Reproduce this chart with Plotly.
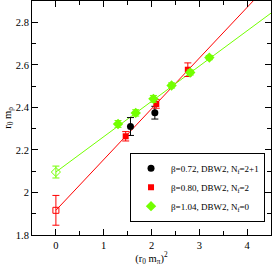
import plotly.graph_objects as go

# ---- data ----
black_x = [1.56, 2.07]
black_y = [2.31, 2.375]
black_err = [0.042, 0.03]

red_x = [1.46, 2.10, 2.76]
red_y = [2.264, 2.416, 2.577]
red_err = [0.022, 0.02, 0.032]
red_chiral_x = [0.0]
red_chiral_y = [1.916]
red_chiral_err = [0.07]
red_fit = (1.916, 0.2385)   # intercept, slope

green_x = [1.30, 1.67, 2.04, 2.42, 2.81, 3.21]
green_y = [2.322, 2.374, 2.44, 2.503, 2.564, 2.634]
green_err = [0.016, 0.015, 0.016, 0.012, 0.012, 0.01]
green_chiral_x = [0.0]
green_chiral_y = [2.096]
green_chiral_err = [0.028]
green_fit = (2.096, 0.166)

fit_x = [0.0, 4.5]

labels = ["β=0.72, DBW2, N<sub>f</sub>=2+1",
          "β=0.80, DBW2, N<sub>f</sub>=2",
          "β=1.04, DBW2, N<sub>f</sub>=0"]

RED = "#ff0000"
GREEN = "#73ff00"
BLACK = "#000000"
FONT = "Liberation Serif"

fig = go.Figure()

def line(fit, color):
    a, b = fit
    fig.add_trace(go.Scatter(x=fit_x, y=[a + b * x for x in fit_x], mode="lines",
                             line=dict(color=color, width=1), showlegend=False,
                             hoverinfo="skip"))

line(red_fit, RED)
line(green_fit, GREEN)

def err(vals, color):
    return dict(type="data", array=vals, visible=True, color=color, thickness=1, width=3.5)

fig.add_trace(go.Scatter(x=red_chiral_x, y=red_chiral_y, mode="markers",
                         marker=dict(symbol="square-open", size=6, color=RED, line=dict(width=1)),
                         error_y=err(red_chiral_err, RED), showlegend=False))
fig.add_trace(go.Scatter(x=green_chiral_x, y=green_chiral_y, mode="markers",
                         marker=dict(symbol="diamond-open", size=7, color=GREEN, line=dict(width=1)),
                         error_y=err(green_chiral_err, GREEN), showlegend=False))

fig.add_trace(go.Scatter(x=black_x, y=black_y, mode="markers", name=labels[0],
                         marker=dict(symbol="circle", size=7, color=BLACK),
                         error_y=err(black_err, BLACK)))
fig.add_trace(go.Scatter(x=red_x, y=red_y, mode="markers", name=labels[1],
                         marker=dict(symbol="square", size=6, color=RED),
                         error_y=err(red_err, RED)))
fig.add_trace(go.Scatter(x=green_x, y=green_y, mode="markers", name=labels[2],
                         marker=dict(symbol="diamond", size=8, color=GREEN),
                         error_y=err(green_err, GREEN)))

axis_common = dict(showline=True, linecolor="black", linewidth=1, mirror="ticks",
                   ticks="inside", ticklen=6, tickcolor="black", tickwidth=1,
                   showgrid=False, zeroline=False,
                   tickfont=dict(family=FONT, size=10.5, color="black"))

fig.update_xaxes(range=[-0.5, 4.5], dtick=1, tick0=0,
                 minor=dict(dtick=0.5, ticks="inside", ticklen=4, tickcolor="black"),
                 title=dict(text="(r<sub>0</sub> m<sub>π</sub>)<sup>2</sup>",
                            font=dict(family=FONT, size=10.5, color="black"), standoff=2),
                 **axis_common)
fig.update_yaxes(range=[1.8, 2.9], dtick=0.2, tick0=1.8,
                 minor=dict(dtick=0.1, ticks="inside", ticklen=4, tickcolor="black"),
                 title=dict(text="r<sub>0</sub> m<sub>ρ</sub>",
                            font=dict(family=FONT, size=10.5, color="black"), standoff=2),
                 **axis_common)

fig.update_layout(
    width=272, height=266,
    margin=dict(l=32, r=1, t=1, b=31),
    plot_bgcolor="white", paper_bgcolor="white",
    font=dict(family=FONT, color="black"),
    legend=dict(x=0.975, y=0.352, xanchor="right", yanchor="top",
                bgcolor="white", bordercolor="black", borderwidth=1,
                font=dict(family=FONT, size=9, color="black"),
                itemwidth=30, tracegroupgap=0),
    showlegend=True,
)

fig.write_html("out.html", config={"displayModeBar": False},
               post_script="document.body.style.margin='0';document.body.style.overflow='hidden';")
